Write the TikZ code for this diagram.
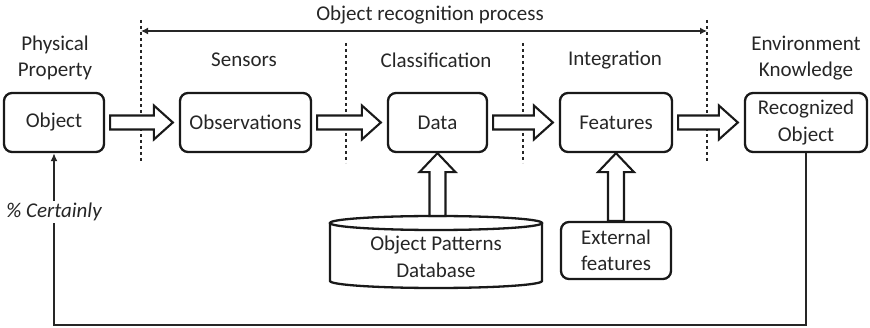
\documentclass[tikz,border=0pt]{standalone}
\usepackage{fontspec}
\setmainfont{Carlito}
\usetikzlibrary{calc,arrows.meta}

\newcommand\fatright[2]{%
  \draw[fat] let \p1=($(#1.east)+(5,0)$), \p2=($(#2.west)+(-6,0)$) in
    (\x1,\y1+7pt) -- (\x2-19pt,\y1+7pt) -- (\x2-19pt,\y1+17pt) -- (\x2,\y1)
    -- (\x2-19pt,\y1-17pt) -- (\x2-19pt,\y1-7pt) -- (\x1,\y1-7pt) -- cycle;}
\newcommand\fatup[2]{%
  \draw[fat] let \p1=(#1), \p2=(#2.south) in
    (\x1-8pt,\y1) -- (\x1-8pt,\y2-19pt) -- (\x1-18pt,\y2-19pt) -- (\x1,\y2)
    -- (\x1+18pt,\y2-19pt) -- (\x1+8pt,\y2-19pt) -- (\x1+8pt,\y1) -- cycle;}

\begin{document}
\begin{tikzpicture}[x=1pt,y=-1pt,
  every node/.style={text=black!85, font=\fontsize{21}{26.5}\selectfont},
  box/.style={draw=black!90, line width=2.3pt, rounded corners=8pt, align=center,
    inner sep=0pt, minimum height=59pt},
  fat/.style={draw=black!90, line width=2.1pt, fill=white, line join=miter},
  lbl/.style={align=center},
  sep/.style={draw=black!85, line width=1.5pt, dash pattern=on 3.5pt off 2.5pt},
  fb/.style={draw=black!85, line width=1.7pt}]
\useasboundingbox (0,0) rectangle (870,328);

% main chain
\node[box, minimum width=100pt] (obj) at (54,122.5) {Object};
\node[box, minimum width=131pt] (obs) at (245.5,122.5) {Observations};
\node[box, minimum width=99pt] (data) at (437.5,122.5) {Data};
\node[box, minimum width=112pt] (feat) at (616,122.5) {Features};
\node[box, minimum width=122pt] (rec) at (806,122.5) {Recognized\\Object};

% stage labels
\node[lbl] (phys) at (55,58) {Physical\\Property};
\node[lbl] (sens) at (244,60) {Sensors};
\node[lbl] (clas) at (436,60) {Classification};
\node[lbl] (intg) at (615,60) {Integration};
\node[lbl] (env) at (806,58) {Environment\\Knowledge};
\node[lbl] (proc) at (430,15) {Object recognition process};

% stage separators
\coordinate (s1t) at (141,20);  \coordinate (s1b) at (141,163);
\coordinate (s2t) at (346,43);  \coordinate (s2b) at (346,163);
\coordinate (s3t) at (523,43);  \coordinate (s3b) at (523,163);
\coordinate (s4t) at (707,20);  \coordinate (s4b) at (707,163);
\draw[sep] (s1t) -- (s1b);
\draw[sep] (s2t) -- (s2b);
\draw[sep] (s3t) -- (s3b);
\draw[sep] (s4t) -- (s4b);

% extent of the recognition process
\coordinate (pl) at (141,31);
\coordinate (pr) at (707,31);
\draw[draw=black!85, line width=1.4pt, {Latex[length=7pt,width=7pt]}-{Latex[length=7pt,width=7pt]}] (pl) -- (pr);

% flow arrows
\fatright{obj}{obs}
\fatright{obs}{data}
\fatright{data}{feat}
\fatright{feat}{rec}

% pattern database (cylinder)
\draw[draw=black!90, line width=2.3pt, fill=white]
  (330,223) -- (330,281) arc[start angle=180, end angle=0, x radius=106, y radius=7]
  -- (542,223);
\draw[draw=black!90, line width=2.3pt] (436,223) ellipse[x radius=106, y radius=7];
\node[lbl] (db) at (436,257) {Object Patterns\\Database};
\coordinate (dbtop) at (437.5,216);

% external features
\node[box, minimum width=110pt, minimum height=57pt] (ext) at (616,250.5) {External\\features};

\fatup{dbtop}{data}
\fatup{ext.north}{feat}

% certainty feedback
\coordinate (fbr) at (rec.south |- 0,325);
\draw[fb, -{Latex[length=8pt,width=7pt]}] (rec.south) -- (fbr) -| (obj.south)
  node[pos=0.83, fill=white, inner sep=2pt, font=\fontsize{21}{26.5}\selectfont\itshape] (cert) {\% Certainly};
\end{tikzpicture}
\end{document}
